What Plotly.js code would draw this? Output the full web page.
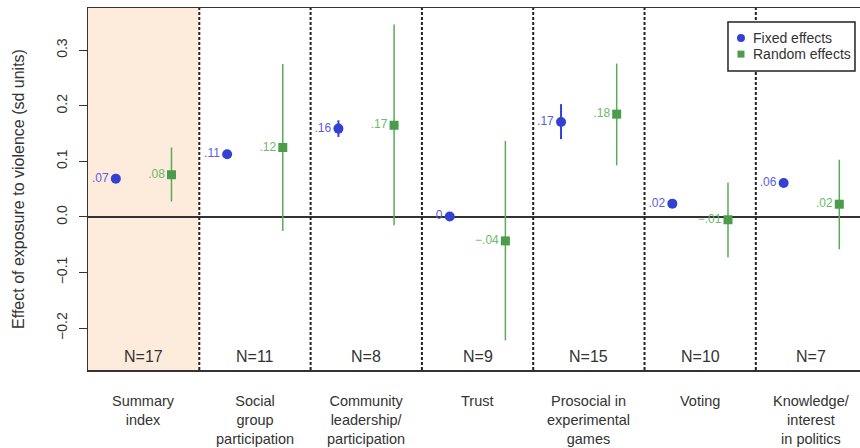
<!DOCTYPE html>
<html><head><meta charset="utf-8">
<script src="https://cdn.plot.ly/plotly-3.0.1.min.js"></script>
<style>body{margin:0;background:#fff}</style></head>
<body><div id="chart" style="width:860px;height:448px"></div>
<script>
const categories = ["Summary<br>index","Social<br>group<br>participation","Community<br>leadership/<br>participation","Trust","Prosocial in<br>experimental<br>games","Voting","Knowledge/<br>interest<br>in politics"];
const nLabels = ["N=17","N=11","N=8","N=9","N=15","N=10","N=7"];
const feEst  = [0.069, 0.113, 0.159, 0.001, 0.171, 0.024, 0.061];
const feLow  = [0.064, 0.106, 0.144, -0.006, 0.140, 0.017, 0.054];
const feHigh = [0.074, 0.120, 0.174, 0.008, 0.203, 0.031, 0.068];
const feText = [".07", ".11", ".16", "0", ".17", ".02", ".06"];
const reEst  = [0.076, 0.125, 0.165, -0.043, 0.185, -0.005, 0.023];
const reLow  = [0.028, -0.025, -0.015, -0.222, 0.093, -0.073, -0.058];
const reHigh = [0.125, 0.275, 0.346, 0.137, 0.276, 0.062, 0.103];
const reText = [".08", ".12", ".17", "\u2212.04", ".18", "\u2212.01", ".02"];
const yTicks = [-0.2, -0.1, 0, 0.1, 0.2, 0.3];
const yTickText = ["\u22120.2", "\u22120.1", "0.0", "0.1", "0.2", "0.3"];
const legendNames = ["Fixed effects", "Random effects"];

const FONT = "Liberation Sans, Arial, sans-serif";
const idx = categories.map((c, i) => i + 1);
const blue = "#3340d4", green = "#4c9c4c";

const fe = {
  type: "scatter", mode: "markers+text", name: legendNames[0],
  x: idx.map(v => v - 0.25), y: feEst,
  text: feText, textposition: "middle left",
  textfont: {family: FONT, size: 12, color: "#5c5ee0"},
  marker: {symbol: "circle", size: 10, color: blue},
  error_y: {type: "data", symmetric: false,
    array: feHigh.map((h, i) => h - feEst[i]),
    arrayminus: feEst.map((e, i) => e - feLow[i]),
    color: blue, thickness: 2, width: 0},
  hoverinfo: "skip", showlegend: false
};
const re = {
  type: "scatter", mode: "markers+text", name: legendNames[1],
  x: idx.map(v => v + 0.25), y: reEst,
  text: reText, textposition: "middle left",
  textfont: {family: FONT, size: 12, color: "#6cb86c"},
  marker: {symbol: "square", size: 9, color: green},
  error_y: {type: "data", symmetric: false,
    array: reHigh.map((h, i) => h - reEst[i]),
    arrayminus: reEst.map((e, i) => e - reLow[i]),
    color: "#5aaa5a", thickness: 1.5, width: 0},
  hoverinfo: "skip", showlegend: false
};

const shapes = [{type: "rect", xref: "x", yref: "paper", x0: 0.5, x1: 1.5, y0: 0, y1: 1,
  fillcolor: "#fdebdc", line: {width: 0}, layer: "below"}];
for (let i = 1; i < categories.length; i++) {
  shapes.push({type: "line", xref: "x", yref: "paper", x0: i + 0.5, x1: i + 0.5, y0: 0, y1: 1,
    line: {color: "#222", width: 2, dash: "3px,2px"}});
}
// manual legend box (paper coords)
const lgX0 = 0.829, lgX1 = 0.9935, lgY0 = 0.826, lgY1 = 0.961;
shapes.push({type: "rect", xref: "paper", yref: "paper", x0: lgX0, x1: lgX1, y0: lgY0, y1: lgY1,
  fillcolor: "#fff", line: {color: "#222", width: 1.5}});
const symX = lgX0 + 13 / 772;
const rowY = [lgY1 - 16 / 362, lgY1 - 32 / 362];
shapes.push({type: "circle", xref: "paper", yref: "paper", xsizemode: "pixel", ysizemode: "pixel",
  xanchor: symX, yanchor: rowY[0], x0: -4, x1: 4, y0: -4, y1: 4,
  fillcolor: blue, line: {width: 0}});
shapes.push({type: "rect", xref: "paper", yref: "paper", xsizemode: "pixel", ysizemode: "pixel",
  xanchor: symX, yanchor: rowY[1], x0: -3.5, x1: 3.5, y0: -3.5, y1: 3.5,
  fillcolor: green, line: {width: 0}});

const annotations = [];
legendNames.forEach((n, i) => {
  annotations.push({xref: "paper", yref: "paper", x: lgX0 + 23 / 772, y: rowY[i], xanchor: "left",
    yanchor: "middle", text: n, showarrow: false, font: {family: FONT, size: 14, color: "#333"}});
});
categories.forEach((c, i) => {
  annotations.push({xref: "x", yref: "paper", x: i + 1, y: 0, yshift: -21, yanchor: "top",
    text: c, showarrow: false, font: {family: FONT, size: 14.5, color: "#333"}});
  annotations.push({xref: "x", yref: "y", x: i + 1, y: -0.251, yanchor: "middle",
    text: nLabels[i], showarrow: false, font: {family: FONT, size: 16, color: "#333"}});
});

const layout = {
  width: 860, height: 448,
  margin: {l: 88, r: 0, t: 8, b: 78},
  paper_bgcolor: "#fff", plot_bgcolor: "rgba(0,0,0,0)",
  font: {family: FONT, color: "#333"},
  showlegend: false,
  xaxis: {range: [0.5, 7.436], showgrid: false, zeroline: false, showticklabels: false,
    ticks: "", showline: true, mirror: true, linecolor: "#333", linewidth: 1.5, fixedrange: true},
  yaxis: {range: [-0.2752, 0.3759], showgrid: false, tickvals: yTicks, ticktext: yTickText,
    ticks: "outside", ticklen: 8, tickwidth: 1, tickcolor: "#333", tickangle: -90,
    ticklabelstandoff: 6,
    tickfont: {family: FONT, size: 14, color: "#333"},
    showline: true, linecolor: "#333", linewidth: 1.5,
    zeroline: true, zerolinecolor: "#333", zerolinewidth: 1.2,
    title: {text: "Effect of exposure to violence (sd units)", standoff: 25,
      font: {family: FONT, size: 16, color: "#333"}}},
  shapes: shapes, annotations: annotations
};
Plotly.newPlot("chart", [fe, re], layout, {displayModeBar: false, staticPlot: true});
</script></body></html>
